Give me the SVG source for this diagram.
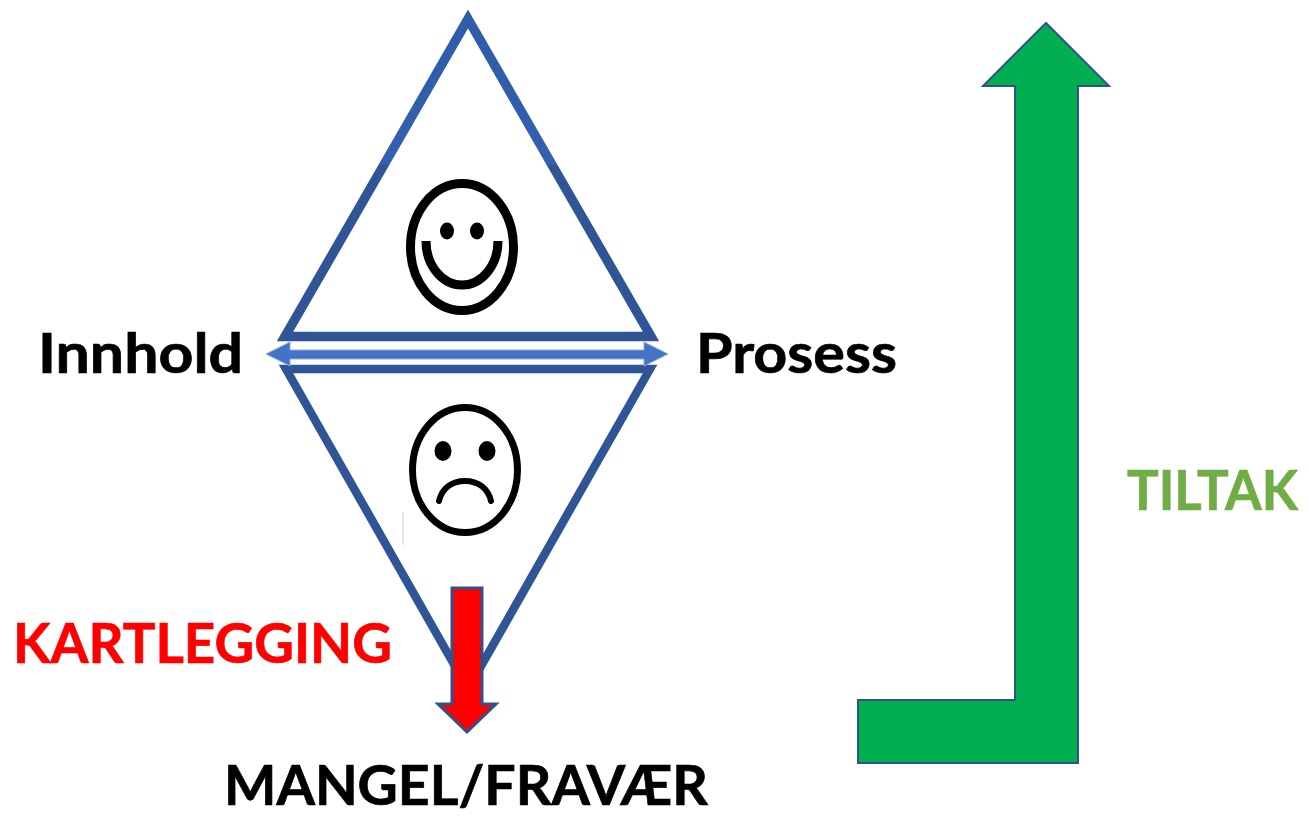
<svg xmlns="http://www.w3.org/2000/svg" width="1309" height="816" viewBox="0 0 1309 816">
<defs>
<linearGradient id="triStroke" gradientUnits="userSpaceOnUse" x1="0" y1="0" x2="0" y2="340">
<stop offset="0" stop-color="#2F5CA8"/><stop offset="0.485" stop-color="#3360AF"/><stop offset="0.485" stop-color="#2F5597"/><stop offset="1" stop-color="#2F5597"/>
</linearGradient>
</defs>
<style>
.lbl{font-family:"Lato","Open Sans","Liberation Sans",sans-serif;font-weight:700;font-size:56px;stroke-width:.7}
.tri{fill:none;stroke-linejoin:miter}
.face{fill:none;stroke:#000}
.eye{fill:#000}
.arrow{stroke:#2F528F;stroke-linejoin:miter}
</style>
<rect width="1309" height="816" fill="#fff"/>
<g id="triangle-top"><path class="tri" stroke="url(#triStroke)" stroke-width="9.500" d="M468 19 L651 336.500 L285 336.500 Z"/></g>
<g id="triangle-bottom"><path class="tri" stroke="#2F5597" stroke-width="8.500" d="M286 369 L650 369 L468 689 Z"/></g>
<g id="smile">
<ellipse class="face" stroke-width="9" cx="462" cy="247" rx="51.500" ry="63.500"/>
<ellipse class="eye" cx="447" cy="231" rx="7" ry="8.500"/><ellipse class="eye" cx="477" cy="231" rx="7" ry="8.500"/>
<path class="face" stroke-width="9" d="M426 241 A36 44 0 0 0 498 241"/>
</g>
<g id="frown">
<ellipse class="face" stroke-width="7" cx="465" cy="470" rx="52.500" ry="62.500"/>
<ellipse class="eye" cx="443" cy="451" rx="8.500" ry="10"/><ellipse class="eye" cx="487" cy="451" rx="8.500" ry="10"/>
<path class="face" stroke-width="6" stroke-linecap="round" d="M439 501 C442 488 452 481 465 481 C478 481 488 488 491 501"/>
<path d="M403 512 L403 545" stroke="#ccc" stroke-width="1" fill="none"/>
</g>
<g id="connectors">
<path id="double-arrow" fill="#4472C4" stroke="#8FAADC" stroke-width="1" d="M266 354 L290 342 L290 350 L644 350 L644 342 L668 354 L644 366 L644 359 L290 359 L290 366 Z"/>
<path id="arrow-down" class="arrow" fill="#f00" stroke-width="3" d="M452 588 L482 588 L482 704 L496 704 L467 732 L438 704 L452 704 Z"/>
<path id="arrow-up" class="arrow" fill="#00B050" stroke-width="2" d="M1046 23 L1109 86 L1078 86 L1078 763 L858 763 L858 700 L1015 700 L1015 86 L983 86 Z"/>
</g>
<g id="label-innhold"><text class="lbl" x="38" y="373" fill="#000" stroke="#000" textLength="205" lengthAdjust="spacingAndGlyphs">Innhold</text></g>
<g id="label-prosess"><text class="lbl" x="696" y="373" fill="#000" stroke="#000" textLength="201" lengthAdjust="spacingAndGlyphs">Prosess</text></g>
<g id="label-kartlegging"><text class="lbl" x="13" y="663" fill="#f00" stroke="#f00" textLength="379" lengthAdjust="spacingAndGlyphs">KARTLEGGING</text></g>
<g id="label-mangel"><text class="lbl" x="224" y="805" fill="#000" stroke="#000" textLength="484" lengthAdjust="spacingAndGlyphs">MANGEL/FRAVÆR</text></g>
<g id="label-tiltak"><text class="lbl" x="1127" y="510" fill="#70AD47" stroke="#70AD47" textLength="171" lengthAdjust="spacingAndGlyphs">TILTAK</text></g>
</svg>
